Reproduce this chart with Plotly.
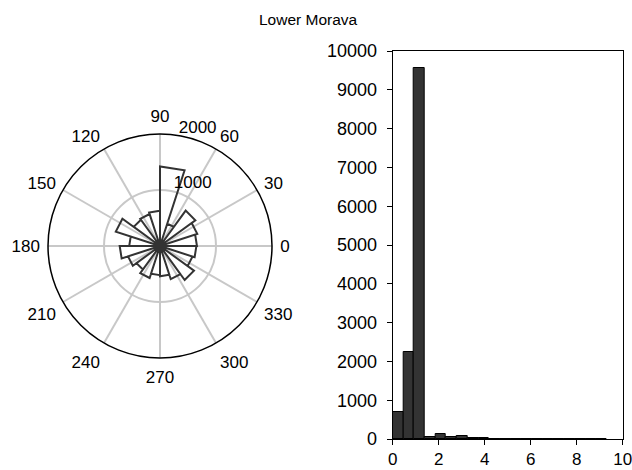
import plotly.graph_objects as go

# ---- data ----
title_text = "Lower Morava"

# rose (angular histogram): 20 bins of 18 degrees, counts per bin
rose_bin_width_deg = 18
rose_counts = [660, 700, 780, 420, 1420, 630, 600, 580, 830, 550,
               720, 600, 520, 600, 520, 540, 620, 750, 610, 650]
angle_ticks = [0, 30, 60, 90, 120, 150, 180, 210, 240, 270, 300, 330]
radial_ticks = [1000, 2000]

# linear histogram: 20 bins from 0 to 9.3
hist_edges_start = 0.0
hist_bin_width = 0.465
hist_counts = [700, 2250, 9550, 50, 130, 40, 85, 30, 15, 8,
               6, 6, 5, 4, 4, 3, 3, 3, 3, 8]
x_ticks = [0, 2, 4, 6, 8, 10]
y_ticks = [0, 1000, 2000, 3000, 4000, 5000, 6000, 7000, 8000, 9000, 10000]

# ---- build rose polygon (MATLAB rose style: straight chords) ----
r_pts, th_pts = [], []
for i, c in enumerate(rose_counts):
    a0 = i * rose_bin_width_deg
    a1 = a0 + rose_bin_width_deg
    r_pts += [0, c, c, 0]
    th_pts += [a0, a0, a1, a1]

hist_centers = [hist_edges_start + hist_bin_width * (i + 0.5) for i in range(len(hist_counts))]

FONT = "Liberation Sans, Arial, Helvetica, sans-serif"
W, H = 632, 470

fig = go.Figure()
fig.add_trace(go.Scatterpolar(
    r=r_pts, theta=th_pts, mode="lines",
    line=dict(color="#333333", width=2),
    showlegend=False, hoverinfo="skip", subplot="polar"))

fig.add_trace(go.Bar(
    x=hist_centers, y=hist_counts, width=hist_bin_width,
    marker=dict(color="#333333", line=dict(color="#000000", width=1)),
    showlegend=False, xaxis="x", yaxis="y", hoverinfo="skip"))

cx, cy, R = 160, 246, 112
fig.update_layout(
    width=W, height=H,
    margin=dict(l=0, r=0, t=0, b=0, autoexpand=False),
    paper_bgcolor="white", plot_bgcolor="white",
    font=dict(family=FONT, size=17, color="#000000"),
    annotations=[dict(text=title_text, x=308 / W, y=(H - 20) / H,
                      xref="paper", yref="paper", showarrow=False,
                      xanchor="center", yanchor="middle",
                      font=dict(family=FONT, size=15.5, color="#000000"))],
    polar=dict(
        domain=dict(x=[(cx - R) / W, (cx + R) / W],
                    y=[(H - cy - R) / H, (H - cy + R) / H]),
        bgcolor="white",
        radialaxis=dict(range=[0, 2000], tickmode="array", tickvals=radial_ticks,
                        ticktext=[str(v) + "<br> " for v in radial_ticks],
                        angle=85, tickangle=85, showline=False, ticks="",
                        gridcolor="#c8c8c8", gridwidth=2,
                        tickfont=dict(size=17)),
        angularaxis=dict(tickmode="array", tickvals=angle_ticks,
                         ticktext=[str(v) for v in angle_ticks],
                         direction="counterclockwise", rotation=0,
                         showline=True, linecolor="#000000", linewidth=1.5,
                         gridcolor="#c8c8c8", gridwidth=2,
                         ticks="outside", ticklen=4, tickcolor="rgba(0,0,0,0)",
                         tickfont=dict(size=17)),
    ),
    xaxis=dict(domain=[392.7 / W, 622.7 / W], range=[0, 10],
               tickmode="array", tickvals=x_ticks,
               ticktext=[str(v) for v in x_ticks],
               showline=True, linecolor="#000000", linewidth=1, mirror=True,
               ticks="outside", ticklen=5, tickcolor="#000000",
               tickfont=dict(size=17), ticklabeloverflow="allow",
               showgrid=False, zeroline=False, anchor="y", automargin=False),
    yaxis=dict(domain=[(H - 439) / H, (H - 51) / H], range=[0, 10000],
               tickmode="array", tickvals=y_ticks,
               ticktext=[str(v) for v in y_ticks],
               showline=True, linecolor="#000000", linewidth=1, mirror=True,
               ticks="outside", ticklen=5, tickcolor="#000000",
               ticklabelstandoff=6, tickfont=dict(size=18),
               showgrid=False, zeroline=False, anchor="x", automargin=False),
    bargap=0,
)

fig.write_html("out.html", config={"displayModeBar": False},
               post_script="document.body.style.margin='0';document.body.style.padding='0';")
